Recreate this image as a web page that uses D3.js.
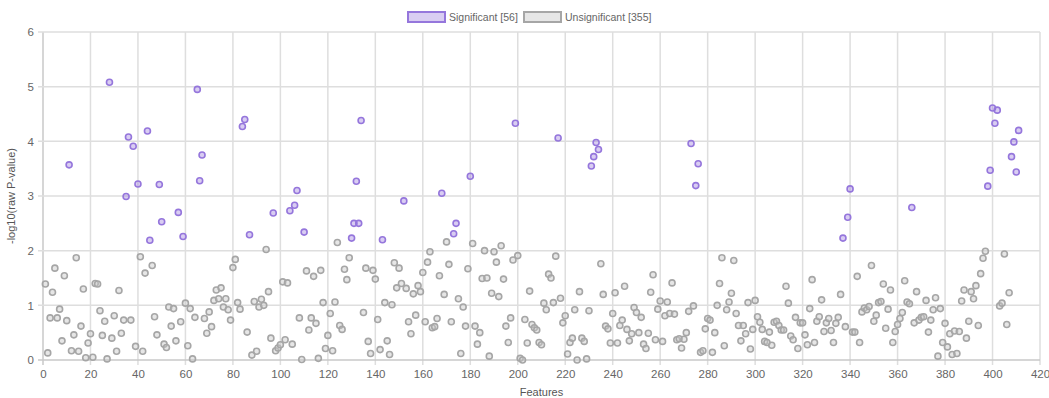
<!DOCTYPE html>
<html><head><meta charset="utf-8">
<script src="https://cdn.jsdelivr.net/npm/d3@7"></script>
<style>body{margin:0;background:#fff;}svg{display:block;font-family:"Liberation Sans",Arial,sans-serif;}</style>
</head><body><svg id="c" width="1049" height="398"></svg>
<script>
// Significant features: index and -log10(raw P-value)
const sigIdx = [11,28,35,36,38,40,44,45,49,50,57,59,65,66,67,84,85,87,97,104,106,107,110,130,131,132,133,134,143,152,168,173,174,180,199,217,231,232,233,234,273,275,276,337,339,340,366,398,399,400,401,402,408,409,410,411];
const sigVal = [3.57,5.08,2.99,4.08,3.91,3.22,4.19,2.19,3.21,2.53,2.70,2.26,4.95,3.28,3.75,4.27,4.40,2.29,2.69,2.73,2.83,3.10,2.34,2.23,2.50,3.27,2.50,4.38,2.20,2.91,3.05,2.31,2.50,3.36,4.33,4.06,3.55,3.72,3.98,3.85,3.96,3.19,3.59,2.23,2.61,3.13,2.79,3.18,3.47,4.61,4.33,4.57,3.72,3.99,3.44,4.20];
// Unsignificant features: values in feature order (indices 1..411 excluding the significant ones)
const unsigVal = [
1.39,0.13,0.77,1.24,1.68,0.77,0.93,0.35,1.54,0.72,
0.17,0.46,1.87,0.16,0.62,1.30,0.04,0.31,0.48,0.05,1.40,1.39,0.90,0.45,0.71,0.02,
0.40,0.81,0.16,1.27,0.49,0.73,
0.73,0.25,1.89,0.16,1.59,1.73,0.79,0.46,
0.29,0.23,0.97,0.62,0.94,0.35,0.70,
1.04,0.26,0.94,0.02,0.78,
0.76,0.49,0.88,0.61,1.09,1.28,1.12,1.32,0.97,1.12,0.92,0.73,1.69,1.84,1.05,0.93,
0.51,0.09,1.07,0.16,0.97,1.11,1.00,2.02,1.25,0.40,
0.17,0.22,0.28,1.43,0.37,1.41,0.29,
0.77,0.01,
1.63,0.55,0.77,1.53,0.67,0.03,1.64,1.05,0.21,0.45,0.85,0.17,1.06,2.15,0.63,0.56,1.66,1.47,1.87,
0.87,1.68,0.34,0.12,1.64,1.48,0.74,0.19,
1.05,0.35,0.10,1.01,1.78,1.32,1.68,1.40,
1.31,0.70,0.48,1.21,0.82,1.36,1.25,1.60,0.70,1.79,1.98,0.59,0.61,0.76,1.54,
1.20,2.16,1.75,0.70,
1.12,0.12,0.97,0.62,1.67,
2.13,0.62,0.29,0.50,1.49,2.00,1.50,0.07,1.22,1.98,1.79,1.16,2.09,1.48,0.62,0.32,0.77,1.83,
1.91,0.03,0.00,0.74,0.31,1.26,0.65,0.59,0.55,0.32,0.28,1.04,0.92,1.57,1.50,1.05,1.90,
1.13,0.68,0.81,0.11,0.32,0.40,0.92,0.00,1.25,0.40,0.34,0.02,0.90,
1.76,1.20,0.62,0.57,0.31,0.85,1.23,0.31,0.63,0.73,1.35,0.56,0.35,0.48,0.96,0.87,0.50,0.78,0.29,0.21,0.49,1.24,1.56,0.37,0.93,1.08,0.34,0.81,1.06,0.85,1.41,0.84,0.37,0.39,0.22,0.38,0.50,0.89,
0.99,
0.14,0.17,0.57,0.76,0.73,0.14,0.50,1.00,1.40,1.87,0.26,0.92,1.06,1.22,1.82,0.85,0.63,0.35,0.63,0.48,1.05,0.20,0.56,1.09,0.79,0.69,0.56,0.34,0.32,0.51,0.27,0.69,0.71,0.63,0.55,0.55,1.35,1.04,0.44,0.37,0.78,0.21,0.68,0.68,0.46,0.28,0.94,1.47,0.32,0.71,0.79,1.10,0.52,0.68,0.76,0.54,0.32,0.67,0.78,1.20,
0.61,
0.51,0.51,1.53,0.32,0.88,0.95,0.92,0.98,1.73,0.71,0.82,1.05,1.07,1.39,0.58,0.93,1.28,0.32,0.52,0.65,0.76,0.87,1.45,1.06,1.03,
0.68,1.25,0.73,0.78,0.79,1.09,0.51,0.73,0.92,1.14,0.07,0.94,0.32,0.67,0.24,0.48,0.10,0.53,0.12,0.52,1.08,1.28,0.40,0.71,1.25,1.12,1.36,0.63,1.58,1.86,1.99,
0.99,1.04,1.94,0.65,1.23
];
const nFeatures = 411;
const xTicks = d3.range(0, 421, 20);
const yTicks = [0,1,2,3,4,5,6];
const legendLabels = ["Significant [56]", "Unsignificant [355]"];
const xTitle = "Features";
const yTitle = "-log10(raw P-value)";

// build point lists
const sigSet = new Set(sigIdx);
const unsigIdx = d3.range(1, nFeatures + 1).filter(i => !sigSet.has(i));
const sigPts = sigIdx.map((x, i) => ({x, y: sigVal[i]}));
const unsigPts = unsigIdx.map((x, i) => ({x, y: unsigVal[i]}));

const svg = d3.select("#c");
const m = {l: 43, r: 9, t: 32, b: 38};
const W = 1049, H = 398;
const x = d3.scaleLinear().domain([0, 420]).range([m.l, W - m.r]);
const y = d3.scaleLinear().domain([0, 6]).range([H - m.b, m.t]);

const grid = svg.append("g");
grid.selectAll("line.v").data(xTicks).join("line")
  .attr("x1", d => x(d)).attr("x2", d => x(d))
  .attr("y1", y(6)).attr("y2", y(0) + 5)
  .attr("stroke", d => d === 0 ? "#c8c8c8" : "#dedede").attr("stroke-width", 1.5);
grid.selectAll("line.h").data(yTicks).join("line")
  .attr("x1", x(0) - 5).attr("x2", x(420))
  .attr("y1", d => y(d)).attr("y2", d => y(d))
  .attr("stroke", d => d === 0 ? "#c8c8c8" : "#dedede").attr("stroke-width", 1.5);

const xAxis = svg.append("g").attr("transform", `translate(0,${y(0)})`)
  .call(d3.axisBottom(x).tickValues(xTicks).tickFormat(d3.format("d")).tickSize(0).tickPadding(10));
const yAxis = svg.append("g").attr("transform", `translate(${x(0)},0)`)
  .call(d3.axisLeft(y).tickValues(yTicks).tickFormat(d3.format("d")).tickSize(0).tickPadding(9));
[xAxis, yAxis].forEach(g => {
  g.select(".domain").remove();
  g.selectAll("text").attr("fill", "#666").attr("font-size", 11.5)
    .attr("font-family", "'Liberation Sans', Arial, sans-serif");
});

svg.append("text").attr("x", (x(0) + x(420)) / 2).attr("y", 396)
  .attr("text-anchor", "middle").attr("font-size", 11).attr("fill", "#555").text(xTitle);
svg.append("text").attr("transform", `translate(15,${(y(0) + y(6)) / 2}) rotate(-90)`)
  .attr("text-anchor", "middle").attr("font-size", 11).attr("fill", "#555").text(yTitle);

const styles = [
  {fill: "rgba(147,112,219,0.35)", stroke: "#9576dc"},
  {fill: "rgba(200,200,200,0.45)", stroke: "#a6a6a6"}
];

svg.append("g").selectAll("circle").data(unsigPts).join("circle")
  .attr("cx", d => x(d.x)).attr("cy", d => y(d.y)).attr("r", 3)
  .attr("fill", styles[1].fill).attr("stroke", styles[1].stroke).attr("stroke-width", 1.6);
svg.append("g").selectAll("circle").data(sigPts).join("circle")
  .attr("cx", d => x(d.x)).attr("cy", d => y(d.y)).attr("r", 3)
  .attr("fill", styles[0].fill).attr("stroke", styles[0].stroke).attr("stroke-width", 1.6);

// legend
const lg = svg.append("g");
const legendX = [408, 524];
legendLabels.forEach((lab, i) => {
  lg.append("rect").attr("x", legendX[i]).attr("y", 12).attr("width", 37).attr("height", 10)
    .attr("fill", styles[i].fill).attr("stroke", styles[i].stroke).attr("stroke-width", 2);
  lg.append("text").attr("x", legendX[i] + 41).attr("y", 21).attr("font-size", 10.5)
    .attr("fill", "#666").text(lab);
});
</script></body></html>
